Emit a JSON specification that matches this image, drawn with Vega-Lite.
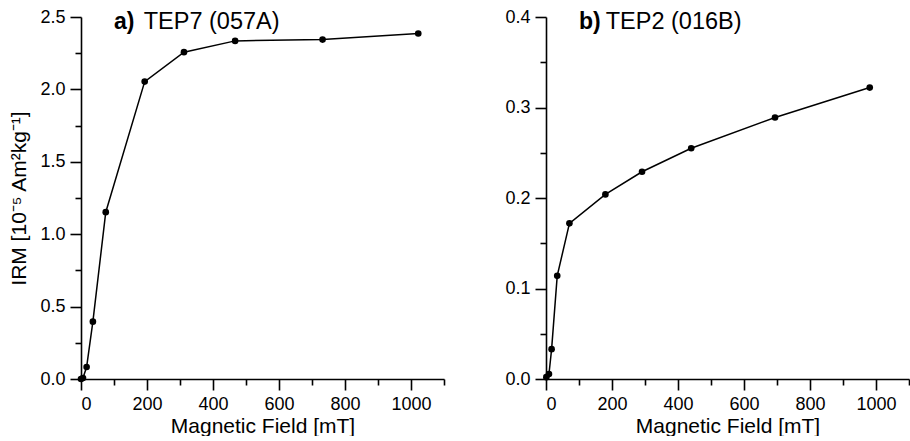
{
  "$schema": "https://vega.github.io/schema/vega-lite/v6.json",
  "padding": {"left": 8, "top": 8, "right": 0, "bottom": 0},
  "spacing": 59,
  "config": {
    "font": "Liberation Sans",
    "view": {"stroke": null},
    "axis": {
      "domainColor": "black", "domainWidth": 1.6,
      "tickColor": "black", "tickWidth": 1.6, "tickSize": 11,
      "labelFontSize": 18, "labelColor": "black", "labelPadding": 5,
      "titleFontSize": 21, "titleFontWeight": "normal", "titleColor": "black",
      "grid": false
    }
  },
  "datasets": {
    "a": [
      {"field": 0, "irm": 0}, {"field": 6, "irm": 0.007}, {"field": 17, "irm": 0.083},
      {"field": 36, "irm": 0.396}, {"field": 75, "irm": 1.152}, {"field": 193, "irm": 2.054},
      {"field": 312, "irm": 2.257}, {"field": 467, "irm": 2.335}, {"field": 732, "irm": 2.344},
      {"field": 1022, "irm": 2.386}
    ],
    "b": [
      {"field": 1, "irm": 0.002}, {"field": 9, "irm": 0.0055}, {"field": 17, "irm": 0.033},
      {"field": 34, "irm": 0.114}, {"field": 71, "irm": 0.172}, {"field": 180, "irm": 0.204},
      {"field": 291, "irm": 0.229}, {"field": 440, "irm": 0.255}, {"field": 694, "irm": 0.289},
      {"field": 981, "irm": 0.322}
    ]
  },
  "hconcat": [
    {
      "width": 363, "height": 362,
      "resolve": {"axis": {"x": "independent", "y": "independent"}},
      "layer": [
        {
          "data": {"name": "a"},
          "mark": {"type": "line", "color": "black", "strokeWidth": 1.5},
          "encoding": {
            "x": {"field": "field", "type": "quantitative", "scale": {"domain": [0, 1100], "nice": false},
                  "axis": {"orient": "bottom", "values": [0, 200, 400, 600, 800, 1000], "format": "d", "title": "Magnetic Field [mT]", "titlePadding": 2}},
            "y": {"field": "irm", "type": "quantitative", "scale": {"domain": [0, 2.5], "nice": false},
                  "axis": {"orient": "left", "values": [0, 0.5, 1, 1.5, 2, 2.5], "format": ".1f", "title": "IRM [10⁻⁵ Am²kg⁻¹]", "titlePadding": 10}}
          }
        },
        {
          "data": {"name": "a"},
          "mark": {"type": "point", "filled": true, "color": "black", "size": 44, "opacity": 1},
          "encoding": {
            "x": {"field": "field", "type": "quantitative",
                  "axis": {"orient": "bottom", "values": [100, 300, 500, 700, 900, 1100], "labels": false, "domain": false, "tickSize": 6, "title": null}},
            "y": {"field": "irm", "type": "quantitative",
                  "axis": {"orient": "left", "values": [0.25, 0.75, 1.25, 1.75, 2.25], "labels": false, "domain": false, "tickSize": 6, "title": null}}
          }
        },
        {
          "data": {"values": [{}]},
          "mark": {"type": "text", "text": "a)", "fontWeight": "bold", "fontSize": 23, "align": "left", "baseline": "alphabetic", "color": "black"},
          "encoding": {
            "x": {"datum": 100, "type": "quantitative", "axis": null},
            "y": {"datum": 2.414, "type": "quantitative", "axis": null}
          }
        },
        {
          "data": {"values": [{}]},
          "mark": {"type": "text", "text": "TEP7 (057A)", "fontSize": 23.5, "align": "left", "baseline": "alphabetic", "color": "black"},
          "encoding": {
            "x": {"datum": 190, "type": "quantitative", "axis": null},
            "y": {"datum": 2.414, "type": "quantitative", "axis": null}
          }
        }
      ]
    },
    {
      "width": 363, "height": 362,
      "resolve": {"axis": {"x": "independent", "y": "independent"}},
      "layer": [
        {
          "data": {"name": "b"},
          "mark": {"type": "line", "color": "black", "strokeWidth": 1.5},
          "encoding": {
            "x": {"field": "field", "type": "quantitative", "scale": {"domain": [0, 1100], "nice": false},
                  "axis": {"orient": "bottom", "values": [0, 200, 400, 600, 800, 1000], "format": "d", "title": "Magnetic Field [mT]", "titlePadding": 2}},
            "y": {"field": "irm", "type": "quantitative", "scale": {"domain": [0, 0.4], "nice": false},
                  "axis": {"orient": "left", "values": [0, 0.1, 0.2, 0.3, 0.4], "format": ".1f", "title": null}}
          }
        },
        {
          "data": {"name": "b"},
          "mark": {"type": "point", "filled": true, "color": "black", "size": 44, "opacity": 1},
          "encoding": {
            "x": {"field": "field", "type": "quantitative",
                  "axis": {"orient": "bottom", "values": [100, 300, 500, 700, 900, 1100], "labels": false, "domain": false, "tickSize": 6, "title": null}},
            "y": {"field": "irm", "type": "quantitative",
                  "axis": {"orient": "left", "values": [0.05, 0.15, 0.25, 0.35], "labels": false, "domain": false, "tickSize": 6, "title": null}}
          }
        },
        {
          "data": {"values": [{}]},
          "mark": {"type": "text", "text": "b)", "fontWeight": "bold", "fontSize": 23, "align": "left", "baseline": "alphabetic", "color": "black"},
          "encoding": {
            "x": {"datum": 100, "type": "quantitative", "axis": null},
            "y": {"datum": 0.3865, "type": "quantitative", "axis": null}
          }
        },
        {
          "data": {"values": [{}]},
          "mark": {"type": "text", "text": "TEP2 (016B)", "fontSize": 23.5, "align": "left", "baseline": "alphabetic", "color": "black"},
          "encoding": {
            "x": {"datum": 181, "type": "quantitative", "axis": null},
            "y": {"datum": 0.3865, "type": "quantitative", "axis": null}
          }
        }
      ]
    }
  ]
}
